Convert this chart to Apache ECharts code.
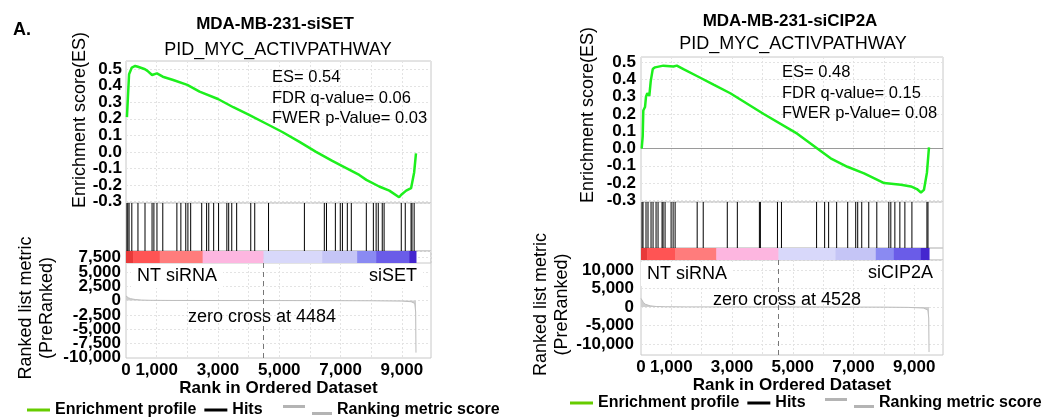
<!DOCTYPE html>
<html><head><meta charset="utf-8">
<script src="https://cdn.jsdelivr.net/npm/echarts@6/dist/echarts.min.js"></script>
<style>html,body{margin:0;padding:0;background:#fff}#c{width:1059px;height:418px}</style>
</head><body><div id="c"></div>
<script>
// ---------------- data ----------------
const xTickLabels = [0, 1000, 3000, 5000, 7000, 9000];
const esTicks = [-0.3, -0.2, -0.1, 0.0, 0.1, 0.2, 0.3, 0.4, 0.5];
const rankTicksLeft = [-10000, -7500, -5000, -2500, 0, 2500, 5000, 7500];
const rankTicksRight = [-10000, -5000, 0, 5000, 10000];

const titlesLeft = ['MDA-MB-231-siSET', 'PID_MYC_ACTIVPATHWAY'];
const titlesRight = ['MDA-MB-231-siCIP2A', 'PID_MYC_ACTIVPATHWAY'];
const statsLeft = ['ES= 0.54', 'FDR q-value= 0.06', 'FWER p-Value= 0.03'];
const statsRight = ['ES= 0.48', 'FDR q-value= 0.15', 'FWER p-Value= 0.08'];
const classesLeft = ['NT siRNA', 'siSET'];
const classesRight = ['NT siRNA', 'siCIP2A'];
const zeroCrossLeft = 4484;
const zeroCrossRight = 4528;

const esRanksLeft = [30, 60, 100, 190, 300, 390, 620, 700, 850, 1010, 1200, 1540, 2000, 2400, 3000, 3500, 4000, 4580, 5100, 5660, 6200, 6730, 7200, 7610, 7840, 8260, 8590, 8910, 8980, 9140, 9300, 9400, 9460];
const esScoresLeft = [0.21, 0.32, 0.47, 0.51, 0.52, 0.515, 0.50, 0.49, 0.465, 0.475, 0.455, 0.435, 0.405, 0.365, 0.32, 0.27, 0.225, 0.17, 0.12, 0.06, 0.0, -0.055, -0.10, -0.14, -0.17, -0.21, -0.235, -0.275, -0.26, -0.235, -0.22, -0.125, -0.01];

const esRanksRight = [23, 56, 76, 132, 165, 208, 274, 321, 387, 463, 737, 1068, 1180, 1398, 1841, 2390, 2942, 4043, 5147, 5808, 6248, 6800, 7349, 8010, 8562, 8893, 9091, 9223, 9322, 9421, 9488];
const esScoresRight = [0.0, 0.07, 0.22, 0.24, 0.30, 0.32, 0.305, 0.39, 0.46, 0.47, 0.48, 0.475, 0.48, 0.46, 0.42, 0.37, 0.32, 0.20, 0.086, 0.0, -0.057, -0.106, -0.144, -0.2, -0.21, -0.22, -0.235, -0.255, -0.24, -0.14, 0.007];

const hitsLeft = [30, 60, 100, 190, 390, 620, 850, 910, 1010, 1200, 1660, 1790, 1950, 2020, 2110, 2470, 2630, 2700, 2860, 3020, 3290, 3350, 3450, 3610, 4070, 4200, 4650, 5820, 6470, 6540, 6830, 6990, 7060, 7220, 7350, 7840, 8070, 8160, 8230, 8360, 8420, 8980, 9110, 9300, 9330, 9400];
const hitsRight = [33, 66, 165, 231, 331, 397, 496, 562, 694, 727, 793, 992, 1058, 1124, 1851, 2050, 2843, 3174, 3901, 3934, 4496, 4628, 5785, 6050, 6182, 6446, 6810, 7074, 7140, 7273, 7504, 7769, 8165, 8231, 8364, 8529, 8694, 8926, 9421, 9455];

const bandEdgesLeft = [0, 230, 1100, 2500, 4484, 6400, 7540, 8160, 9240, 9460];
const bandEdgesRight = [0, 200, 1120, 2480, 4528, 6410, 7735, 8330, 9220, 9490];

const metricRanksLeft = [0, 30, 80, 150, 300, 500, 800, 1500, 3000, 4484, 6000, 8000, 9000, 9300, 9420, 9450, 9460];
const metricValuesLeft = [800, 650, 480, 330, 180, 90, 40, 15, 5, 0, -10, -40, -100, -200, -500, -2000, -9100];
const metricRanksRight = [0, 30, 80, 150, 300, 500, 800, 1500, 3000, 4528, 6000, 8000, 8800, 9300, 9450, 9480, 9490];
const metricValuesRight = [2300, 1800, 1200, 700, 300, 120, 50, 15, 5, 0, -15, -50, -120, -300, -800, -3000, -12200];

// ---------------- styles ----------------
const FONT = '"Liberation Sans", Arial, Helvetica, sans-serif';
const bandPalette = ['#e83a3a', '#ff5454', '#ff7c7c', '#fdb6e0', '#d8d8fa', '#c5c5f6', '#8a8af2', '#6a5ce8', '#4426cf'];
const ES_COLOR = '#1def1d';
const GRID_BORDER = '#c8c8c8';
const SPLIT = { show: true, lineStyle: { color: '#e3e3e3', type: [2, 2], width: 1 } };
const X_MAX = 9950;

const fmtNum = v => Math.round(v).toLocaleString('en-US');
const pairs = (a, b) => a.map((v, i) => [v, b[i]]);
const labelBase = { color: '#000', fontSize: 17, fontWeight: 'bold', fontFamily: FONT, lineHeight: 12,
  showMinLabel: false, showMaxLabel: false, hideOverlap: false, interval: 0 };

const panels = [
  { x: 126, w: 305, esTop: 61, esBot: 203, hitBot: 251, bandBot: 263, rankTop: 251, rankBot: 358,
    esMin: -0.31, esMax: 0.55, rankMin: -10040, rankMax: 8660, rankStep: 2500, rankTicks: rankTicksLeft,
    es: pairs(esRanksLeft, esScoresLeft), hits: hitsLeft, band: bandEdgesLeft,
    metric: pairs(metricRanksLeft, metricValuesLeft), zero: zeroCrossLeft, zeroLine: false,
    esNameGap: 37, esNamePad: 24, esLabelMargin: 4, rankNameGap: 68, rankNamePad: [0, 7, 0, 0], rankLabelMargin: 5 },
  { x: 641, w: 302, esTop: 57, esBot: 202, hitBot: 248, bandBot: 260, rankTop: 260, rankBot: 355,
    esMin: -0.31, esMax: 0.53, rankMin: -13000, rankMax: 12700, rankStep: 5000, rankTicks: rankTicksRight,
    es: pairs(esRanksRight, esScoresRight), hits: hitsRight, band: bandEdgesRight,
    metric: pairs(metricRanksRight, metricValuesRight), zero: zeroCrossRight, zeroLine: true,
    esNameGap: 44, esNamePad: 29, esLabelMargin: 5, rankNameGap: 66, rankNamePad: [0, 0, 0, 6], rankLabelMargin: 7 }
];

const grid = [], xAxis = [], yAxis = [], series = [];
panels.forEach((p, pi) => {
  const g0 = grid.length;
  const rects = [
    [p.esTop, p.esBot], [p.esBot, p.hitBot], [p.hitBot, p.bandBot], [p.rankTop, p.rankBot]
  ];
  rects.forEach(r => grid.push({ left: p.x, width: p.w, top: r[0], height: r[1] - r[0], show: true,
    borderColor: GRID_BORDER, borderWidth: 1, backgroundColor: 'transparent', containLabel: false }));

  // x axes
  for (let k = 0; k < 4; k++) {
    const isRank = k === 3;
    xAxis.push({
      type: 'value', gridIndex: g0 + k, min: 0, max: X_MAX, interval: 1000,
      axisLine: { show: false }, axisTick: { show: false },
      splitLine: (k === 0 || k === 3) ? SPLIT : { show: false },
      axisLabel: isRank ? Object.assign({}, labelBase, { show: true, margin: 4, lineHeight: 17, showMinLabel: true,
        formatter: v => xTickLabels.includes(v) ? fmtNum(v) : '' }) : { show: false },
      name: isRank ? 'Rank in Ordered Dataset' : '',
      nameLocation: 'middle', nameGap: 18,
      nameTextStyle: { color: '#000', fontSize: 17, fontWeight: 'bold', fontFamily: FONT }
    });
  }
  // y axes
  yAxis.push({
    type: 'value', gridIndex: g0, min: p.esMin, max: p.esMax, splitNumber: 8, minInterval: 0.1, maxInterval: 0.1,
    axisLine: { show: false }, axisTick: { show: false }, splitLine: SPLIT,
    axisLabel: Object.assign({}, labelBase, { margin: p.esLabelMargin,
      formatter: v => { const t = esTicks.find(e => Math.abs(e - v) < 1e-6); return t === undefined ? '' : t.toFixed(1); } }),
    name: 'Enrichment score(ES)', nameLocation: 'middle', nameGap: p.esNameGap,
    nameTextStyle: { color: '#000', fontSize: 18, fontFamily: FONT, padding: [0, 0, 0, p.esNamePad] }
  });
  yAxis.push({ type: 'value', gridIndex: g0 + 1, min: 0, max: 1, show: false, splitLine: { show: false } });
  yAxis.push({ type: 'value', gridIndex: g0 + 2, min: 0, max: 1, show: false, splitLine: { show: false } });
  yAxis.push({
    type: 'value', gridIndex: g0 + 3, min: p.rankMin, max: p.rankMax, splitNumber: 7,
    minInterval: p.rankStep, maxInterval: p.rankStep,
    axisLine: { show: false }, axisTick: { show: false }, splitLine: SPLIT,
    axisLabel: Object.assign({}, labelBase, { margin: p.rankLabelMargin,
      formatter: v => p.rankTicks.includes(Math.round(v)) && Math.abs(v - Math.round(v)) < 1e-6 ? fmtNum(v) : '' }),
    name: 'Ranked list metric\n(PreRanked)', nameLocation: 'middle', nameGap: p.rankNameGap,
    nameTextStyle: { color: '#000', fontSize: 18, lineHeight: 21, fontFamily: FONT, padding: p.rankNamePad }
  });

  // series: enrichment profile
  const esSeries = {
    name: 'Enrichment profile', type: 'line', xAxisIndex: g0, yAxisIndex: g0, data: p.es,
    showSymbol: false, symbol: 'none', lineStyle: { color: ES_COLOR, width: 2.5 }, itemStyle: { color: ES_COLOR },
    z: 5, silent: true
  };
  if (p.zeroLine) {
    esSeries.markLine = { silent: true, symbol: ['none', 'none'], label: { show: false },
      lineStyle: { color: '#9a9a9a', type: 'solid', width: 1.2 }, data: [{ yAxis: 0 }] };
  }
  series.push(esSeries);

  // hits
  series.push({
    name: 'Hits', type: 'custom', xAxisIndex: g0 + 1, yAxisIndex: g0 + 1,
    data: p.hits.map(h => [h, 1]), encode: { x: 0, y: 1 }, itemStyle: { color: '#000' }, silent: true,
    renderItem: (params, api) => {
      const a = api.coord([api.value(0), 1]);
      const b = api.coord([api.value(0), 0]);
      return { type: 'line', shape: { x1: a[0], y1: a[1], x2: b[0], y2: b[1] },
        style: { stroke: '#000', lineWidth: 1 } };
    }
  });

  // colour band
  const bandData = p.band.slice(0, -1).map((s, i) => [s, p.band[i + 1], i]);
  series.push({
    name: 'band', type: 'custom', xAxisIndex: g0 + 2, yAxisIndex: g0 + 2, z: 10, silent: true,
    data: bandData, encode: { x: [0, 1] },
    renderItem: (params, api) => {
      const a = api.coord([api.value(0), 1]);
      const b = api.coord([api.value(1), 0]);
      return { type: 'rect', shape: { x: a[0], y: a[1], width: b[0] - a[0] + 0.5, height: b[1] - a[1] },
        style: { fill: bandPalette[api.value(2)] } };
    }
  });

  // ranking metric
  series.push({
    name: 'Ranking metric score', type: 'line', xAxisIndex: g0 + 3, yAxisIndex: g0 + 3, data: p.metric,
    showSymbol: false, symbol: 'none', lineStyle: { color: '#bdbdbd', width: 1 }, itemStyle: { color: '#bdbdbd' },
    areaStyle: { color: '#cfcfcf', opacity: 1 }, z: 3, silent: true,
    markLine: { silent: true, symbol: ['none', 'none'], label: { show: false },
      lineStyle: { color: '#777', type: [5, 4], width: 1 }, data: [{ xAxis: p.zero }] }
  });
});

// ---------------- text ----------------
function txt(text, x, y, size, weight, align, extraStyle) {
  return { type: 'text', x: x, y: y, z: 100, silent: true,
    style: Object.assign({ text: text, fontSize: size, fontWeight: weight, fontFamily: FONT, fill: '#000',
      align: align, textAlign: align, verticalAlign: 'middle', textVerticalAlign: 'middle' }, extraStyle || {}) };
}
const boxed = { backgroundColor: '#fff', padding: [3, 6, 3, 6] };
const graphic = [
  txt('A.', 13, 30, 18, 'bold', 'left'),
  txt(titlesLeft[0], 275, 24, 17, 'bold', 'center'),
  txt(titlesLeft[1], 278, 50, 18, 'normal', 'center'),
  txt(titlesRight[0], 790, 21, 17, 'bold', 'center'),
  txt(titlesRight[1], 793, 44, 18, 'normal', 'center'),
  txt(statsLeft[0], 272, 77, 16.5, 'normal', 'left'),
  txt(statsLeft[1], 272, 98, 16.5, 'normal', 'left'),
  txt(statsLeft[2], 272, 118, 16.5, 'normal', 'left'),
  txt(statsRight[0], 782, 72, 16.5, 'normal', 'left'),
  txt(statsRight[1], 782, 93, 16.5, 'normal', 'left'),
  txt(statsRight[2], 782, 113, 16.5, 'normal', 'left'),
  txt(classesLeft[0], 131, 276, 18, 'normal', 'left', boxed),
  txt(classesLeft[1], 423, 276, 18, 'normal', 'right', boxed),
  txt(classesRight[0], 641, 274, 18, 'normal', 'left', boxed),
  txt(classesRight[1], 939, 273, 18, 'normal', 'right', boxed),
  txt('zero cross at ' + zeroCrossLeft, 262, 317, 18, 'normal', 'center'),
  txt('zero cross at ' + zeroCrossRight, 787, 300, 18, 'normal', 'center')
];

const legendText = { color: '#000', fontSize: 16, fontWeight: 'bold', fontFamily: FONT };
const rankIcon = 'path://M0,0H22V3H0ZM29,7H49V10H29Z';
function legends(left1, left2, top) {
  return [
    { left: left1, top: top, padding: 0, itemWidth: 23, itemHeight: 3, itemGap: 8, selectedMode: false,
      textStyle: legendText,
      data: [{ name: 'Enrichment profile', icon: 'rect', itemStyle: { color: '#66cc00' } },
             { name: 'Hits', icon: 'rect', itemStyle: { color: '#000' } }] },
    { left: left2, top: top, padding: 0, itemWidth: 49, itemHeight: 10, selectedMode: false,
      textStyle: legendText,
      data: [{ name: 'Ranking metric score', icon: rankIcon, itemStyle: { color: '#b4b4b4' } }] }
  ];
}

const chart = echarts.init(document.getElementById('c'), null, { renderer: 'canvas' });
chart.setOption({
  animation: false,
  backgroundColor: '#fff',
  grid: grid, xAxis: xAxis, yAxis: yAxis, series: series,
  legend: legends(27, 283, 402).concat(legends(570, 825, 395)),
  graphic: graphic
});
</script></body></html>
